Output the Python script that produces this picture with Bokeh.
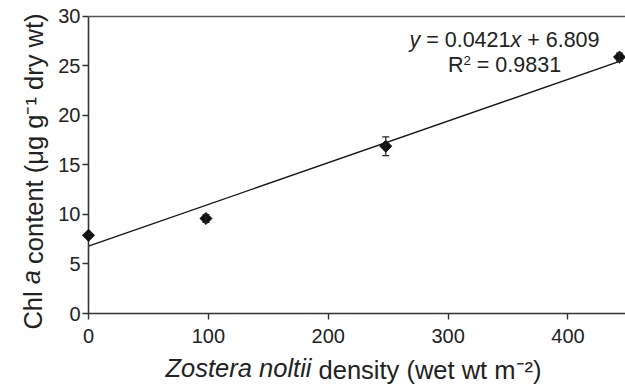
import numpy as np
from bokeh.plotting import figure
from bokeh.models import (Range1d, FixedTicker, LabelSet, Whisker, TeeHead,
                          ColumnDataSource, LinearAxis)
from bokeh.core.properties import value
from bokeh.embed import file_html
from bokeh.resources import INLINE

# Measured points: seagrass density vs. chlorophyll a content (mean ± error)
density = [0, 98, 248, 443]
chl_a = [7.9, 9.6, 16.9, 25.9]
chl_err = [0.2, 0.4, 0.95, 0.4]

# Linear fit reported for the points
slope = 0.0421
intercept = 6.809
r_squared = 0.9831

x_ticks = [0, 100, 200, 300, 400]
y_ticks = [0, 5, 10, 15, 20, 25, 30]

W, H = 625, 386
AX_LEFT, AX_RIGHT, AX_TOP, AX_BOTTOM = 88, 625, 16, 314   # pixel box of the axes
PAD_T = 3
X_END = 448.0
Y_END = 30.0
XS = (AX_RIGHT - AX_LEFT) / X_END     # px per x unit
YS = (AX_BOTTOM - AX_TOP) / Y_END     # px per y unit

FONT = "Liberation Sans"
INK = "#222222"
AXIS = "#333333"
TITLE_PX = 25.5
EQ_PX = 21.5

p = figure(width=W, height=H, output_backend="svg", toolbar_location=None,
           x_range=Range1d(0, X_END),
           y_range=Range1d(0, Y_END + PAD_T / YS),
           min_border_left=AX_LEFT, min_border_right=W - AX_RIGHT,
           min_border_top=AX_TOP - PAD_T, min_border_bottom=H - AX_BOTTOM)
p.outline_line_color = None
p.grid.visible = False
p.background_fill_color = "white"
p.border_fill_color = "white"

for ax, ticks in ((p.xaxis[0], x_ticks), (p.yaxis[0], y_ticks)):
    ax.ticker = FixedTicker(ticks=ticks)
    ax.minor_tick_line_color = None
    ax.major_tick_in = 0
    ax.major_tick_out = 6
    ax.axis_line_color = AXIS
    ax.axis_line_width = 1.6
    ax.major_tick_line_color = AXIS
    ax.major_tick_line_width = 1.4
    ax.major_label_text_font = FONT
    ax.major_label_text_font_size = "20px"
    ax.major_label_text_color = INK
p.yaxis.bounds = (0, Y_END)
p.xaxis.major_label_standoff = 9
p.yaxis.major_label_standoff = 2

# top edge of the plotting box
p.line([0, X_END], [Y_END, Y_END], line_color="#555555", line_width=1.6)

# regression line over the sampled range
fit_x = np.array([0, max(density)])
fit_y = slope * fit_x + intercept
p.line(fit_x, fit_y, line_color="#111111", line_width=1.3)

# error bars and markers (overlay level, so the point on the y axis stays whole)
lo = [m - e for m, e in zip(chl_a, chl_err)]
hi = [m + e for m, e in zip(chl_a, chl_err)]
src = ColumnDataSource(dict(x=density, y=chl_a, lo=lo, hi=hi))
p.add_layout(Whisker(source=src, base="x", lower="lo", upper="hi",
                     line_color="#222222", line_width=1.2, level="overlay",
                     upper_head=TeeHead(size=7, line_color="#222222", line_width=1.2),
                     lower_head=TeeHead(size=7, line_color="#222222", line_width=1.2)))
p.scatter("x", "y", source=src, marker="square", angle=np.pi / 4, size=8.5,
          fill_color="#111111", line_color="#111111", level="overlay")

# ---- text widths (Liberation Sans advances, per 1000 em) ----
ADV = {' ': 278, 'C': 722, 'h': 556, 'l': 222, 'a': 556, 'c': 500, 'o': 556,
       'n': 556, 't': 278, 'e': 556, '(': 333, ')': 333, 'μ': 576, 'g': 556,
       'd': 556, 'r': 333, 'y': 500, 'w': 722, 'Z': 611, 's': 500, 'i': 222,
       'm': 833, 'x': 500, '=': 584, '+': 584, '.': 278, 'R': 722, '−': 584,
       '⁻': 350, '¹': 333, '²': 333}
for d in "0123456789":
    ADV[d] = 556


def run_width(s, size):
    return sum(ADV.get(ch, 556) for ch in s) / 1000.0 * size


def px_x(px):
    return (px - AX_LEFT) / XS


def px_y(py):
    return (AX_BOTTOM - py) / YS


# ---- axis titles: styled runs set as tick labels of label-only axes ----
def split_runs(runs, center_px, vertical):
    """Anchor of each run (data units) for a title centred on center_px.

    Horizontal runs are anchored at their middle; runs reading upwards on the
    left side are anchored at their far (upper) end.
    """
    widths = [run_width(t, TITLE_PX) for t, _ in runs]
    total = sum(widths)
    cur = -total / 2
    out = []
    for (text, style), w in zip(runs, widths):
        core = text.strip(" ")
        lead = run_width(text[:len(text) - len(text.lstrip(" "))], TITLE_PX)
        core_w = run_width(core, TITLE_PX)
        if vertical:
            pos = px_y(center_px - (cur + lead + core_w))
        else:
            pos = px_x(center_px + cur + lead + core_w / 2)
        out.append((round(pos, 3), core, style))
        cur += w
    return out


def title_axis(pieces, style, side, standoff):
    sel = [(pos, txt) for pos, txt, st in pieces if st == style]
    ticks = [pos for pos, _ in sel]
    ax = LinearAxis(ticker=FixedTicker(ticks=ticks),
                    major_label_overrides={pos: txt for pos, txt in sel},
                    axis_line_color=None, major_tick_line_color=None,
                    minor_tick_line_color=None, major_tick_in=0, major_tick_out=0,
                    major_label_standoff=standoff,
                    major_label_text_font=FONT,
                    major_label_text_font_size=f"{TITLE_PX}px",
                    major_label_text_font_style=style,
                    major_label_text_color=INK)
    if side == "left":
        ax.major_label_orientation = np.pi / 2
    p.add_layout(ax, side)


TITLE_H = 29   # height the layout reserves for a title run
x_title = split_runs([("Zostera noltii ", "italic"), ("density (wet wt m⁻²)", "normal")],
                     353, vertical=False)
title_axis(x_title, "italic", "below", 8)
title_axis(x_title, "normal", "below", -TITLE_H)

y_title = split_runs([("Chl ", "normal"), ("a ", "italic"),
                      ("content (μg g⁻¹ dry wt)", "normal")], 171.5, vertical=True)
title_axis(y_title, "normal", "left", 22)
title_axis(y_title, "italic", "left", -TITLE_H)


# ---- fit equation inside the frame ----
def rich_text(runs, size, center, baseline):
    cols = dict(x=[], y=[], text=[], style=[], size=[])
    items = []
    for text, style, sup in runs:
        fs = size * (0.62 if sup else 1.0)
        lead = len(text) - len(text.lstrip(" "))
        trail = len(text) - len(text.rstrip(" "))
        core = text.strip(" ")
        items.append((core, style, fs, 0.33 * size if sup else 0.0,
                      lead * ADV[' '] / 1000 * fs, run_width(core, fs),
                      trail * ADV[' '] / 1000 * fs))
    total = sum(i[4] + i[5] + i[6] for i in items)
    cur = center - total / 2
    for core, style, fs, rise, lead_w, core_w, trail_w in items:
        cur += lead_w
        cols["x"].append(px_x(cur))
        cols["y"].append(px_y(baseline - rise))
        cols["text"].append(core)
        cols["style"].append(style)
        cols["size"].append(f"{fs:.1f}px")
        cur += core_w + trail_w
    return cols


eq = rich_text([("y", "italic", False), (f" = {slope}", "normal", False),
                ("x", "italic", False), (f" + {intercept}", "normal", False)],
               EQ_PX, 504, 47)
r2 = rich_text([("R", "normal", False), ("2", "normal", True),
                (f" = {r_squared}", "normal", False)], EQ_PX, 504, 72)
for k in eq:
    eq[k] += r2[k]
p.add_layout(LabelSet(source=ColumnDataSource(eq), x="x", y="y", text="text",
                      text_font=value(FONT), text_font_style="style",
                      text_font_size="size", text_color=INK,
                      text_align="left", text_baseline="alphabetic"))

open("out.html", "w").write(file_html(p, INLINE))
